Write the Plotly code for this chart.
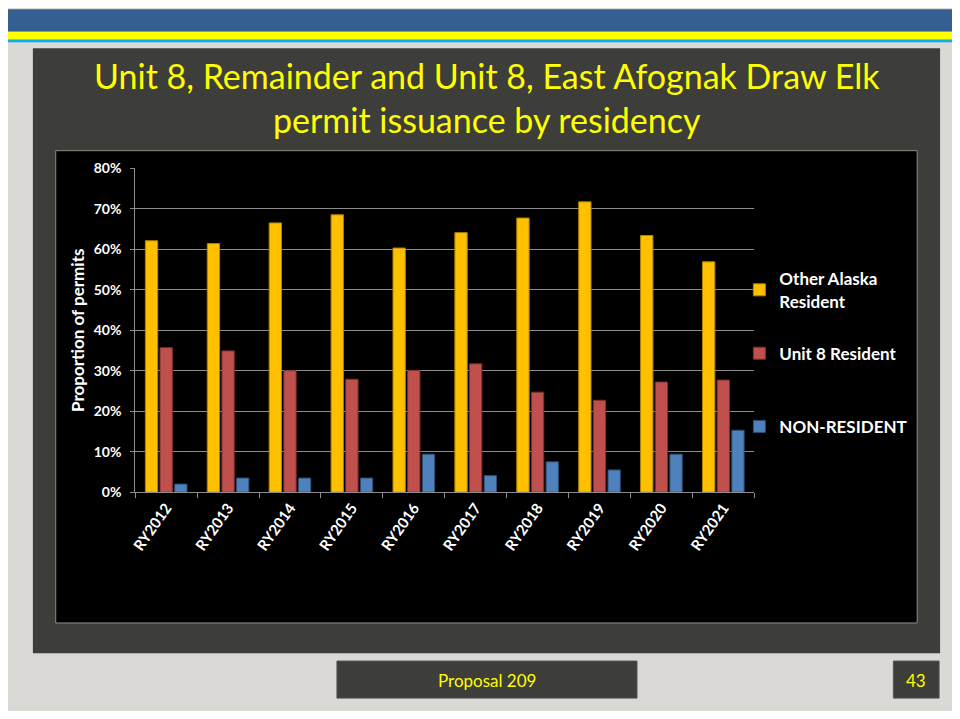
"""Unit 8 elk draw permit issuance by residency, slide recreation."""

import plotly.graph_objects as go

FONT = "Lato"

years = ["RY2012", "RY2013", "RY2014", "RY2015", "RY2016",
         "RY2017", "RY2018", "RY2019", "RY2020", "RY2021"]
other_alaska = [0.621, 0.614, 0.665, 0.685, 0.603, 0.641, 0.677, 0.717, 0.634, 0.569]
unit8 = [0.357, 0.349, 0.300, 0.279, 0.301, 0.317, 0.247, 0.227, 0.272, 0.277]
non_resident = [0.020, 0.035, 0.035, 0.035, 0.094, 0.041, 0.075, 0.055, 0.094, 0.153]

series = [
    ("Other Alaska<br>Resident", other_alaska, "#ffc000", "#b38600", "legend"),
    ("Unit 8 Resident", unit8, "#c0504d", "#7f2f2d", "legend2"),
    ("NON-RESIDENT", non_resident, "#4f81bd", "#2c4d75", "legend3"),
]

fig = go.Figure()
for name, vals, color, edge, leg in series:
    fig.add_trace(go.Bar(
        x=years, y=vals, name=name, legend=leg, showlegend=True,
        marker=dict(color=color, line=dict(color=edge, width=1)),
    ))

# page keeps the browser's 8px body margin, so the figure is 16px smaller
# than the window and slide pixel positions are shifted by 8
OFF = 8
W, H = 960 - 2 * OFF, 719 - 2 * OFF


def fx(x):
    return (x - OFF) / W


def fy(y):
    return 1 - (y - OFF) / H


def px(x0, y0, x1, y1):
    # slide pixel box -> paper coords
    return dict(xref="paper", yref="paper", x0=fx(x0), x1=fx(x1), y0=fy(y1), y1=fy(y0))


shapes = [
    # top banner
    dict(type="rect", fillcolor="#365f91", line_width=0, layer="below", **px(0, 0, 968, 23)),
    dict(type="rect", fillcolor="#ffff00", line_width=0, layer="below", **px(0, 23, 968, 31)),
    dict(type="rect", fillcolor="#00b0f0", line_width=0, layer="below", **px(0, 31, 968, 34)),
    # content panel
    dict(type="rect", fillcolor="#3d3d3a", line_width=0, layer="below", **px(27, 40, 940, 660)),
    # chart area
    dict(type="rect", fillcolor="#000000", line=dict(color="#8c8c8c", width=1),
         layer="below", **px(50, 145, 917, 629)),
    # footer boxes
    dict(type="rect", fillcolor="#3d3d3a", line=dict(color="#555555", width=1),
         layer="below", **px(333, 668, 635, 706)),
    dict(type="rect", fillcolor="#3d3d3a", line=dict(color="#555555", width=1),
         layer="below", **px(893, 668, 939, 706)),
]

legend_style = dict(
    xanchor="left", yanchor="middle", x=fx(738),
    bgcolor="rgba(0,0,0,0)",
    font=dict(family=FONT, size=17, color="white", weight="bold"),
    itemwidth=30,
)

footer_font = dict(family=FONT, size=17, color="#ffff00")

fig.update_layout(
    width=W, height=H,
    margin=dict(l=0, r=0, t=0, b=0),
    paper_bgcolor="#dad9d6",
    plot_bgcolor="#000000",
    barmode="group",
    bargap=0.29,
    bargroupgap=0.16,
    shapes=shapes,
    showlegend=True,
    font=dict(family=FONT, color="white"),
    legend=dict(y=fy(288), **legend_style),
    legend2=dict(y=fy(353), **legend_style),
    legend3=dict(y=fy(428), **legend_style),
    xaxis=dict(
        domain=[fx(130), fx(753)],
        showline=True, linecolor="#8c8c8c", linewidth=1,
        ticks="outside", tickson="boundaries", ticklen=5, tickcolor="#8c8c8c",
        tickangle=-55,
        tickfont=dict(family=FONT, size=15, color="white", weight="bold"),
        showgrid=False,
    ),
    yaxis=dict(
        domain=[fy(495), fy(163)],
        range=[0, 0.8], dtick=0.1, tickformat=".0%",
        showline=True, linecolor="#8c8c8c", linewidth=1,
        ticks="outside", ticklen=4, tickcolor="#8c8c8c",
        ticklabelstandoff=6,
        showgrid=True, gridcolor="#8c8c8c", gridwidth=1,
        zeroline=False,
        tickfont=dict(family=FONT, size=14, color="white", weight="bold"),
        title=dict(text="Proportion of permits", standoff=4,
                   font=dict(family=FONT, size=17, color="white", weight="bold")),
    ),
    annotations=[
        dict(text="Unit 8, Remainder and Unit 8, East Afognak Draw Elk<br>permit issuance by residency",
             xref="paper", yref="paper", x=fx(484), y=fy(91),
             xanchor="center", yanchor="middle", showarrow=False,
             font=dict(family=FONT, size=34, color="#ffff00")),
        dict(text="Proposal 209", xref="paper", yref="paper",
             x=fx(484), y=fy(688), xanchor="center", yanchor="middle",
             showarrow=False, font=footer_font),
        dict(text="43", xref="paper", yref="paper",
             x=fx(916), y=fy(688), xanchor="center", yanchor="middle",
             showarrow=False, font=footer_font),
    ],
)

fig.write_html("out.html", config={"displayModeBar": False})
